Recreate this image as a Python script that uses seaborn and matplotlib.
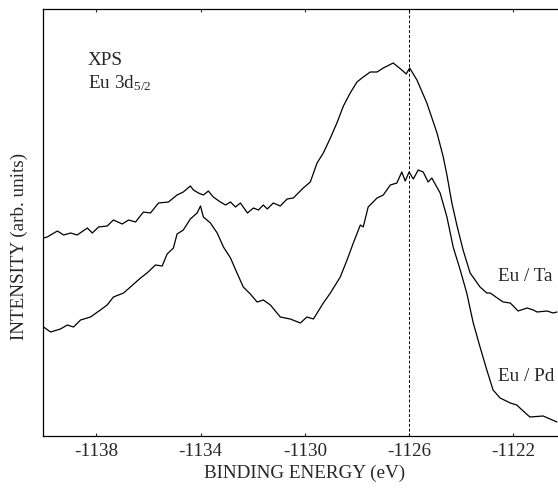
import numpy as np
import pandas as pd
import matplotlib
matplotlib.use("Agg")
import matplotlib.pyplot as plt
import seaborn as sns

# ---- data ----
ta_energy = [-1140.02, -1139.88, -1139.49, -1139.25, -1138.98, -1138.73, -1138.34, -1138.15,
             -1137.91, -1137.58, -1137.34, -1137.00, -1136.76, -1136.49, -1136.19, -1135.92,
             -1135.61, -1135.23, -1134.90, -1134.66, -1134.39, -1134.27, -1134.08, -1133.89,
             -1133.70, -1133.51, -1133.24, -1133.04, -1132.85, -1132.66, -1132.47, -1132.20,
             -1131.97, -1131.78, -1131.59, -1131.44, -1131.21, -1130.94, -1130.68, -1130.44,
             -1130.06, -1129.79, -1129.53, -1129.29, -1129.02, -1128.77, -1128.52, -1128.26,
             -1128.00, -1127.76, -1127.49, -1127.23, -1126.99, -1126.61, -1126.42, -1126.28,
             -1126.11, -1125.98, -1125.70, -1125.32, -1124.93, -1124.69, -1124.55, -1124.36,
             -1124.17, -1123.93, -1123.66, -1123.28, -1123.02, -1122.89, -1122.51, -1122.39,
             -1122.12, -1121.82, -1121.47, -1121.24, -1121.09, -1120.71, -1120.48, -1120.33]
ta_intensity = [198, 199, 205, 201, 203, 201, 208, 203,
                209, 210, 216, 212, 216, 214, 224, 223,
                233, 234, 241, 244, 250, 246, 243, 241,
                245, 239, 234, 231, 234, 229, 233, 223,
                228, 226, 231, 227, 233, 230, 237, 238,
                248, 254, 273, 283, 298, 313, 330, 343,
                354, 359, 364, 364, 368, 373, 369, 366,
                362, 368, 356, 333, 303, 279, 261, 233,
                211, 186, 163, 149, 143, 143, 136, 134,
                133, 125, 128, 126, 124, 125, 123, 124]

pd_energy = [-1140.02, -1139.75, -1139.37, -1139.11, -1138.87, -1138.60, -1138.22, -1137.84,
             -1137.58, -1137.34, -1136.95, -1136.69, -1136.30, -1136.05, -1135.73, -1135.47,
             -1135.28, -1135.04, -1134.90, -1134.66, -1134.39, -1134.13, -1134.00, -1133.89,
             -1133.62, -1133.36, -1133.12, -1132.85, -1132.60, -1132.36, -1132.09, -1131.83,
             -1131.59, -1131.32, -1130.94, -1130.56, -1130.17, -1129.92, -1129.67, -1129.29,
             -1129.02, -1128.64, -1128.38, -1128.14, -1127.87, -1127.76, -1127.57, -1127.23,
             -1126.99, -1126.72, -1126.47, -1126.28, -1126.15, -1126.00, -1125.84, -1125.65,
             -1125.46, -1125.27, -1125.13, -1124.81, -1124.55, -1124.31, -1124.04, -1123.79,
             -1123.54, -1123.28, -1123.02, -1122.78, -1122.51, -1122.12, -1121.87, -1121.75,
             -1121.37, -1120.86, -1120.33]
pd_intensity = [109, 104, 107, 111, 109, 116, 119, 126,
                131, 139, 143, 149, 158, 163, 171, 170,
                182, 188, 202, 206, 217, 223, 230, 219,
                213, 203, 189, 178, 163, 149, 142, 134,
                136, 131, 119, 117, 113, 119, 117, 133,
                143, 159, 176, 193, 211, 209, 229, 238,
                241, 251, 253, 264, 255, 264, 257, 266,
                264, 254, 258, 243, 219, 189, 166, 143,
                113, 89, 66, 46, 38, 33, 31, 28,
                19, 20, 14]

x_ticks = [-1138, -1134, -1130, -1126, -1122]
x_ticklabels = ["-1138", "-1134", "-1130", "-1126", "-1122"]
ref_energy = -1126

# ---- style ----
sns.set_style("ticks")
plt.rcParams["font.family"] = ["Liberation Serif", "DejaVu Serif"]
plt.rcParams["mathtext.fontset"] = "custom"
plt.rcParams["mathtext.rm"] = "Liberation Serif"
plt.rcParams["mathtext.it"] = "Liberation Serif:italic"
plt.rcParams["axes.unicode_minus"] = False

FS = 13.8

df = pd.concat([
    pd.DataFrame({"energy": ta_energy, "intensity": ta_intensity, "sample": "Eu / Ta"}),
    pd.DataFrame({"energy": pd_energy, "intensity": pd_intensity, "sample": "Eu / Pd"}),
])

fig = plt.figure(figsize=(5.58, 4.91), dpi=100)
ax = fig.add_axes([42.5 / 558, 55 / 491, 1 - 42.5 / 558, 427 / 491])

sns.lineplot(data=df, x="energy", y="intensity", hue="sample", units="sample",
             estimator=None, sort=False, palette=["black", "black"], linewidth=0.9,
             legend=False, ax=ax)

ax.axvline(ref_energy, color="black", linewidth=0.7, linestyle=(0, (3, 2)))

ax.set_xlim(-1140.06, -1120.29)
ax.set_ylim(0, 427)
ax.set_xticks(x_ticks)
ax.set_xticklabels(x_ticklabels, fontsize=FS)
ax.set_yticks([])
ax.tick_params(axis="x", which="major", direction="in", top=True, length=2.5, width=0.8, pad=5)

for side in ["left", "bottom", "top"]:
    ax.spines[side].set_linewidth(0.9)
    ax.spines[side].set_color("black")
ax.spines["right"].set_visible(False)

ax.set_xlabel("BINDING ENERGY (eV)", fontsize=FS)
ax.set_ylabel("INTENSITY (arb. units)", fontsize=FS)
ax.xaxis.set_label_coords(0.509, -0.068)
ax.yaxis.set_label_coords(-0.028, 0.445)

ax.text(0.088, 0.869, "XPS", transform=ax.transAxes, fontsize=FS, va="baseline", ha="left")
ax.text(0.088, 0.815, r"Eu 3d$_{5/2}$", transform=ax.transAxes, fontsize=FS, va="baseline", ha="left")
ax.text(0.8836, 0.363, "Eu / Ta", transform=ax.transAxes, fontsize=FS, va="baseline", ha="left")
ax.text(0.8836, 0.129, "Eu / Pd", transform=ax.transAxes, fontsize=FS, va="baseline", ha="left")

fig.savefig("out.png", dpi=100)
